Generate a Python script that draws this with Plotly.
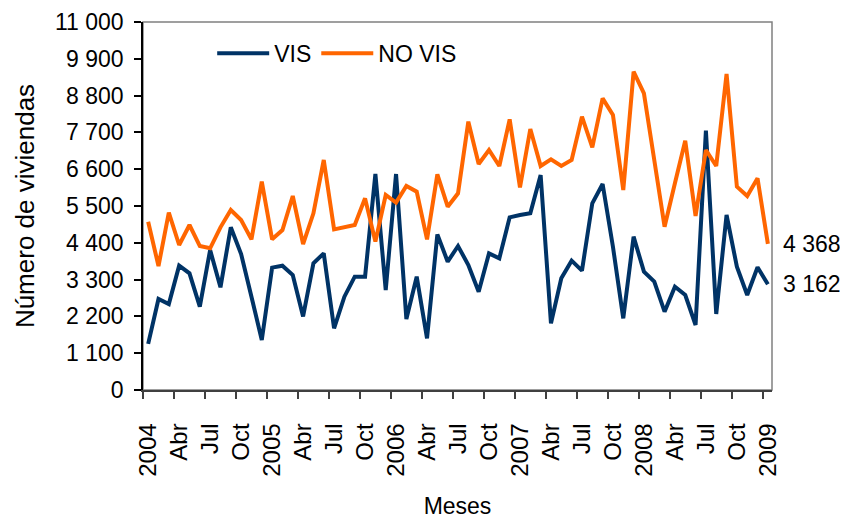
import plotly.graph_objects as go

# Viviendas por mes, enero 2004 - enero 2009
vis = [1380, 2720, 2570, 3716, 3487, 2490, 4185, 3069, 4862, 4065, 2790, 1495,
       3657, 3716, 3437, 2200, 3786, 4085, 1843, 2790, 3388, 3388, 6456, 2989,
       6456, 2122, 3388, 1544, 4653, 3836, 4304, 3736, 2938, 4085, 3936, 5162,
       5231, 5281, 6426, 1993, 3338, 3866, 3567, 5580, 6157, 4283, 2142, 4583,
       3537, 3238, 2341, 3089, 2840, 1943, 7751, 2272, 5231, 3686, 2840, 3667,
       3162]
no_vis = [5031, 3706, 5300, 4334, 4932, 4304, 4235, 4862, 5380, 5081, 4504, 6226,
          4504, 4782, 5799, 4360, 5281, 6875, 4802, 4862, 4932, 5729, 4434, 5829,
          5600, 6097, 5928, 4504, 6446, 5480, 5879, 8021, 6755, 7174, 6695, 8091,
          6058, 7801, 6695, 6895, 6695, 6875, 8170, 7254, 8718, 8220, 5978, 9514,
          8868, 6875, 4882, 6178, 7452, 5201, 7174, 6695, 9445, 6078, 5799, 6327,
          4368]
etiquetas = ["2004", "Abr", "Jul", "Oct", "2005", "Abr", "Jul", "Oct",
             "2006", "Abr", "Jul", "Oct", "2007", "Abr", "Jul", "Oct",
             "2008", "Abr", "Jul", "Oct", "2009"]

meses = list(range(len(vis)))
fuente = "Liberation Sans, Arial, sans-serif"

fig = go.Figure()

fig.add_trace(go.Scatter(
    x=meses, y=vis, name="VIS", mode="lines",
    line=dict(color="#003366", width=4)
))
fig.add_trace(go.Scatter(
    x=meses, y=no_vis, name="NO VIS", mode="lines",
    line=dict(color="#FF6600", width=4)
))

# valores finales a la derecha
for serie in (no_vis, vis):
    fig.add_annotation(
        x=1, xref="paper", y=serie[-1], yref="y",
        text=f"{serie[-1]:,}".replace(",", " "),
        showarrow=False, xanchor="left", xshift=9,
        font=dict(size=23, color="black", family=fuente)
    )

# marco gris del área de trazado
fig.add_shape(type="rect", xref="paper", yref="paper", x0=0, y0=0, x1=1, y1=1,
              line=dict(color="#808080", width=1.5), layer="below")

# la página deja 8 px de margen en el body: la figura se reduce en esa medida
fig.update_layout(
    width=840, height=511,
    margin=dict(l=135, r=76, t=14, b=129),
    paper_bgcolor="white", plot_bgcolor="white",
    separators=", ",
    font=dict(family=fuente, size=23, color="black"),
    showlegend=True,
    legend=dict(orientation="h", x=0.11, y=0.915, xanchor="left", yanchor="middle",
                bgcolor="rgba(0,0,0,0)", font=dict(size=23), itemwidth=52,
                tracegroupgap=0),
    xaxis=dict(
        range=[-0.5, 60.4],
        automargin=False,
        tickmode="array",
        tickvals=meses[::3],
        ticktext=etiquetas,
        tickangle=-90,
        tickfont=dict(size=24),
        ticks="",
        ticklabelstandoff=22,
        showgrid=False, zeroline=False,
        showline=True, linecolor="#404040", linewidth=1.5,
        minor=dict(tickmode="linear", tick0=-0.5, dtick=3, ticks="outside",
                   ticklen=7, tickcolor="#404040", tickwidth=1.5, showgrid=False),
        title=dict(text="Meses", font=dict(size=23), standoff=22),
    ),
    yaxis=dict(
        range=[0, 11000],
        automargin=False,
        tickmode="linear", tick0=0, dtick=1100,
        tickformat=",.0f",
        ticks="outside", ticklen=7, tickcolor="black", tickwidth=1.5,
        ticklabelstandoff=6,
        showgrid=False, zeroline=False,
        showline=True, linecolor="black", linewidth=1.5,
        title=dict(text="Número de viviendas", font=dict(size=26), standoff=13),
    ),
)

fig.write_html("out.html")
